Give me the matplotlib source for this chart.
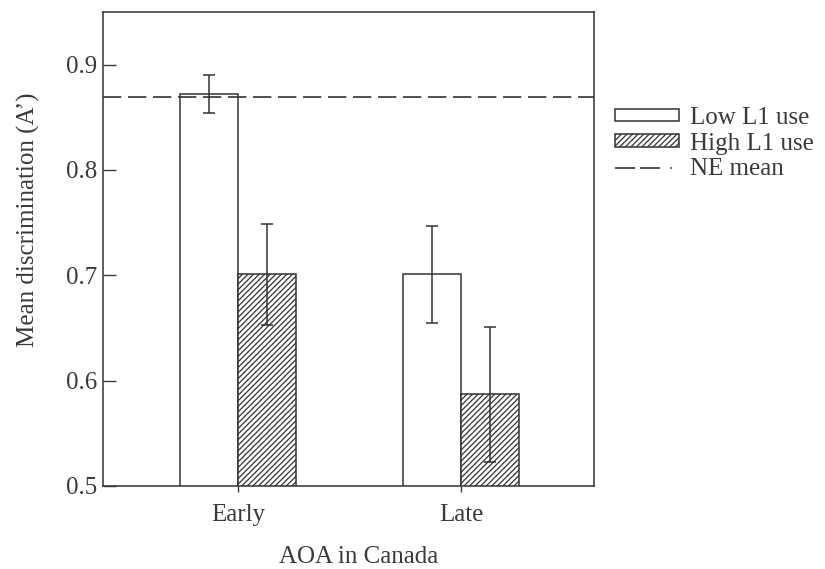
import matplotlib
matplotlib.use("Agg")
import matplotlib.pyplot as plt
from matplotlib.patches import Patch
from matplotlib.lines import Line2D
import numpy as np

categories = ["Early", "Late"]
low_l1 = [0.872, 0.701]
low_l1_err = [0.018, 0.046]
high_l1 = [0.701, 0.587]
high_l1_err = [0.048, 0.064]
ne_mean = 0.869
yticks = [0.5, 0.6, 0.7, 0.8, 0.9]

plt.rcParams['font.family'] = ['Liberation Serif', 'DejaVu Serif']
plt.rcParams['hatch.linewidth'] = 0.9
plt.rcParams['hatch.color'] = '#333333'

FS = 18
tc = '#3a3a3a'
fig = plt.figure(figsize=(8.25, 5.69), dpi=100)
ax = fig.add_axes([0.1248, 0.146, 0.5952, 0.833])

x = np.arange(len(categories))
w = 0.26
ec = '#333333'
ax.bar(x - w/2, low_l1, w, color='white', edgecolor=ec, linewidth=1.1)
ax.bar(x + w/2, high_l1, w, color='white', edgecolor=ec, linewidth=1.1, hatch='//////')
ax.errorbar(x - w/2, low_l1, yerr=low_l1_err, fmt='none', ecolor=ec, elinewidth=1.1, capsize=4, capthick=1.1)
ax.errorbar(x + w/2, high_l1, yerr=high_l1_err, fmt='none', ecolor=ec, elinewidth=1.1, capsize=4, capthick=1.1)
ax.axhline(ne_mean, color=ec, linewidth=1.2, dashes=(11, 4))

ax.set_xlim(-0.605, 1.596)
ax.set_ylim(0.5, 0.95)
ax.set_xticks(x)
ax.set_xticklabels(categories)
ax.set_yticks(yticks)
ax.set_yticklabels([f"{t:.1f}" for t in yticks])
ax.tick_params(axis='y', direction='in', length=9, width=1, pad=4, labelsize=FS, colors=tc)
ax.tick_params(axis='x', direction='out', length=4, width=1, pad=9, labelsize=FS, colors=tc)
for s in ax.spines.values():
    s.set_color(ec)
    s.set_linewidth(1.1)

ax.set_xlabel("AOA in Canada", fontsize=FS, color=tc)
ax.xaxis.set_label_coords(0.521, -0.127)
ax.set_ylabel("Mean discrimination (A\u2019)", fontsize=FS, color=tc)
ax.yaxis.set_label_coords(-0.128, 0.561)

handles = [
    Patch(facecolor='white', edgecolor=ec, linewidth=1.1),
    Patch(facecolor='white', edgecolor=ec, linewidth=1.1, hatch='//////'),
    Line2D([0], [0], color=ec, linewidth=1.2, dashes=(12, 3, 12, 6, 1, 60)),
]
labels = ["Low L1 use", "High L1 use", "NE mean"]
leg = fig.legend(handles, labels, loc='upper left', bbox_to_anchor=(0.746, 0.812),
                 frameon=False, fontsize=FS, handlelength=2.55, handleheight=0.4,
                 handletextpad=0.45, labelspacing=0.15, borderpad=0, borderaxespad=0)
for t in leg.get_texts():
    t.set_color(tc)

fig.savefig("out.png", dpi=100)
